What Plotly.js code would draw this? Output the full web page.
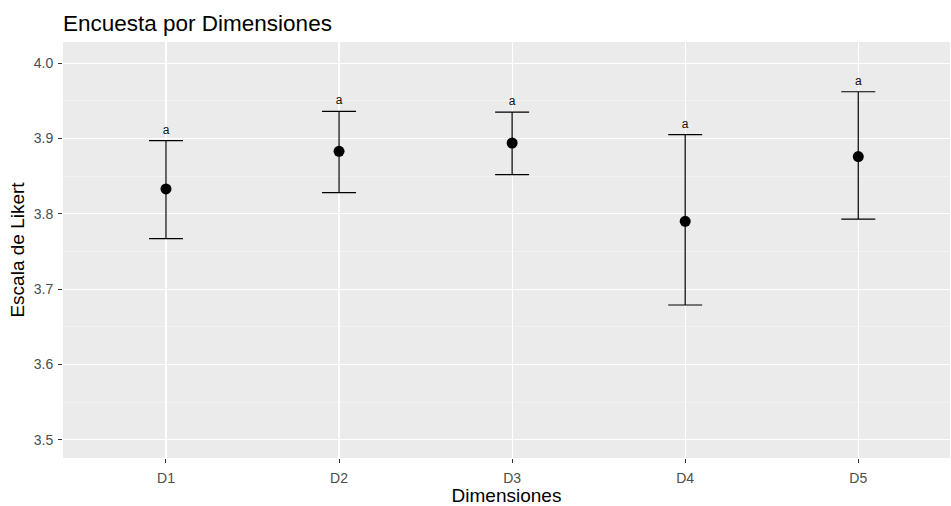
<!DOCTYPE html>
<html><head><meta charset="utf-8">
<script src="https://cdn.plot.ly/plotly-3.0.1.min.js"></script>
<style>body{margin:0;background:#fff}#chart{width:951px;height:506px}</style>
</head><body><div id="chart"></div>
<script>
const dims = ['D1','D2','D3','D4','D5'];
const means = [3.833, 3.883, 3.894, 3.790, 3.876];
const upper = [3.897, 3.936, 3.935, 3.905, 3.962];
const lower = [3.767, 3.828, 3.852, 3.679, 3.793];
const letters = ['a','a','a','a','a'];

const errPlus = means.map((m,i)=>upper[i]-m);
const errMinus = means.map((m,i)=>m-lower[i]);

const traces = [
  {x: dims, y: means, type:'scatter', mode:'markers',
   marker:{color:'#000', size:11},
   error_y:{type:'data', symmetric:false, array:errPlus, arrayminus:errMinus,
            color:'#000', thickness:1.2, width:17},
   hoverinfo:'skip'},
  {x: dims, y: upper, type:'scatter', mode:'markers+text', text: letters,
   marker:{size:5, opacity:0},
   textposition:'top center', textfont:{family:'Liberation Sans, Arial', size:12, color:'#111'},
   hoverinfo:'skip'}
];

const layout = {
  width:951, height:506,
  margin:{l:63, r:1, t:42, b:48},
  paper_bgcolor:'#fff', plot_bgcolor:'#ebebeb',
  showlegend:false,
  font:{family:'Liberation Sans, Arial', color:'#000'},
  title:{text:'Encuesta por Dimensiones', x:63/951, xanchor:'left', y:0.955, yanchor:'middle',
         font:{size:22.5, color:'#000'}},
  xaxis:{type:'category', range:[-0.595, 4.53], showgrid:true, gridcolor:'#fff', gridwidth:1.1,
         zeroline:false, ticks:'outside', ticklen:4, tickcolor:'#333', tickwidth:1,
         ticklabelstandoff:3,
         tickfont:{size:14, color:'#4d4d4d'}, showline:false,
         title:{text:'Dimensiones', font:{size:19, color:'#000'}, standoff:2}},
  yaxis:{range:[3.476, 4.028], tickvals:[3.5,3.6,3.7,3.8,3.9,4.0], ticktext:['3.5','3.6','3.7','3.8','3.9','4.0'],
         showgrid:true, gridcolor:'#fff', gridwidth:1.1, zeroline:false,
         ticks:'outside', ticklen:4, tickcolor:'#333', tickwidth:1,
         ticklabelstandoff:2,
         tickfont:{size:14, color:'#4d4d4d'},
         minor:{tickvals:[3.55,3.65,3.75,3.85,3.95], showgrid:true, gridcolor:'#f7f7f7', gridwidth:0.6, ticks:''},
         title:{text:'Escala de Likert', font:{size:19, color:'#000'}, standoff:4}}
};
Plotly.newPlot('chart', traces, layout, {displayModeBar:false, staticPlot:true});
</script></body></html>
